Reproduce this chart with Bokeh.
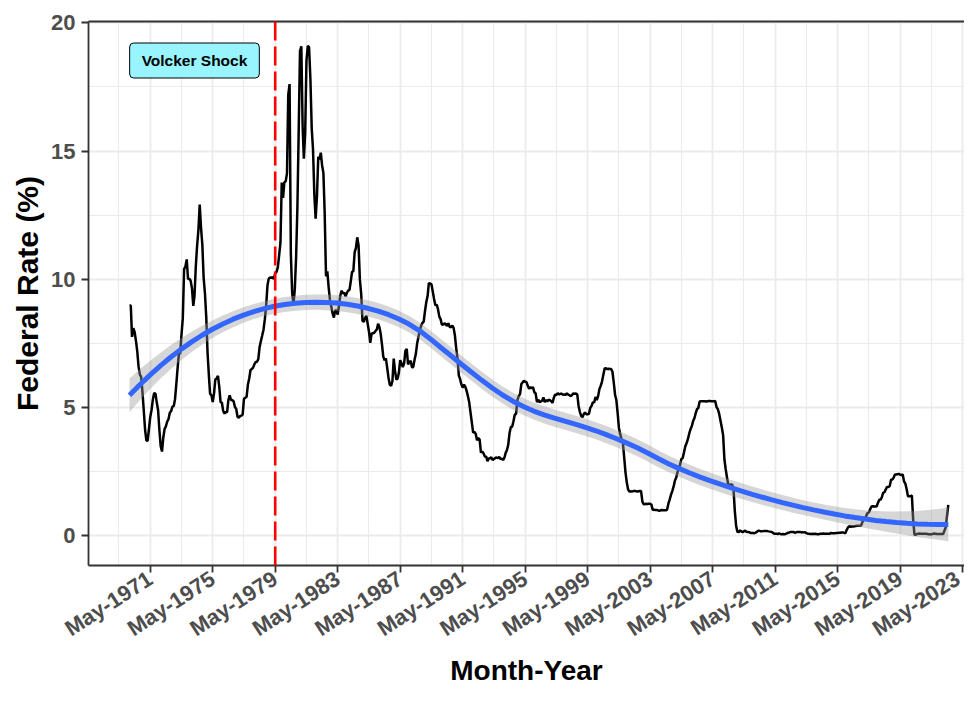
import math
import numpy as np
import pandas as pd
from bokeh.plotting import figure
from bokeh.models import (ColumnDataSource, FixedTicker, DatetimeTickFormatter,
                          Span, Label, LinearAxis, Range1d)
from bokeh.embed import file_html
from bokeh.resources import INLINE

# ---------------- data: monthly effective federal funds rate (%) ----------------
first_month = "1970-01-01"
rate_1970 = [8.98, 8.98, 7.76, 8.10, 7.95, 7.61, 7.21, 6.61, 6.29, 6.20, 5.60, 4.90]
rate_1971 = [4.14, 3.72, 3.71, 4.16, 4.63, 4.91, 5.31, 5.57, 5.55, 5.20, 4.91, 4.14]
rate_1972 = [3.50, 3.29, 3.83, 4.17, 4.27, 4.46, 4.55, 4.80, 4.87, 5.04, 5.06, 5.33]
rate_1973 = [5.94, 6.58, 7.09, 7.12, 7.84, 8.49, 10.40, 10.50, 10.78, 10.01, 10.03, 9.95]
rate_1974 = [9.65, 8.97, 9.35, 10.51, 11.31, 11.93, 12.92, 12.01, 11.34, 10.06, 9.45, 8.53]
rate_1975 = [7.13, 6.24, 5.54, 5.49, 5.22, 5.55, 6.10, 6.14, 6.24, 5.82, 5.22, 5.20]
rate_1976 = [4.87, 4.77, 4.84, 4.82, 5.29, 5.48, 5.31, 5.29, 5.25, 5.03, 4.95, 4.65]
rate_1977 = [4.61, 4.68, 4.69, 4.73, 5.35, 5.39, 5.42, 5.90, 6.14, 6.47, 6.51, 6.56]
rate_1978 = [6.70, 6.78, 6.79, 6.89, 7.36, 7.60, 7.81, 8.04, 8.45, 8.96, 9.76, 10.03]
rate_1979 = [10.07, 10.06, 10.09, 10.01, 10.24, 10.29, 10.47, 10.94, 11.43, 13.77, 13.18, 13.78]
rate_1980 = [13.82, 14.13, 17.19, 17.61, 10.98, 9.47, 9.03, 9.61, 10.87, 12.81, 15.85, 18.90]
rate_1981 = [19.08, 15.93, 14.70, 15.72, 18.52, 19.10, 19.04, 17.82, 15.87, 15.08, 13.31, 12.37]
rate_1982 = [13.22, 14.78, 14.68, 14.94, 14.45, 14.15, 12.59, 10.12, 10.31, 9.71, 9.20, 8.95]
rate_1983 = [8.68, 8.51, 8.77, 8.80, 8.63, 8.98, 9.37, 9.56, 9.45, 9.48, 9.34, 9.47]
rate_1984 = [9.56, 9.59, 9.91, 10.29, 10.32, 11.06, 11.23, 11.64, 11.30, 9.99, 9.43, 8.38]
rate_1985 = [8.35, 8.50, 8.58, 8.27, 7.97, 7.53, 7.88, 7.90, 7.92, 7.99, 8.05, 8.27]
rate_1986 = [8.14, 7.86, 7.48, 6.99, 6.85, 6.92, 6.56, 6.17, 5.89, 5.85, 6.04, 6.91]
rate_1987 = [6.43, 6.10, 6.13, 6.37, 6.85, 6.73, 6.58, 6.73, 7.22, 7.29, 6.69, 6.77]
rate_1988 = [6.83, 6.58, 6.58, 6.87, 7.09, 7.51, 7.75, 8.01, 8.19, 8.30, 8.35, 8.76]
rate_1989 = [9.12, 9.36, 9.85, 9.84, 9.81, 9.53, 9.24, 8.99, 9.02, 8.84, 8.55, 8.45]
rate_1990 = [8.23, 8.24, 8.28, 8.26, 8.18, 8.29, 8.15, 8.13, 8.20, 8.11, 7.81, 7.31]
rate_1991 = [6.91, 6.25, 6.12, 5.91, 5.78, 5.90, 5.82, 5.66, 5.45, 5.21, 4.81, 4.43]
rate_1992 = [4.03, 4.06, 3.98, 3.73, 3.82, 3.76, 3.25, 3.30, 3.22, 3.10, 3.09, 2.92]
rate_1993 = [3.02, 3.03, 3.07, 2.96, 3.00, 3.04, 3.06, 3.03, 3.09, 2.99, 3.02, 2.96]
rate_1994 = [3.05, 3.25, 3.34, 3.56, 4.01, 4.25, 4.26, 4.47, 4.73, 4.76, 5.29, 5.45]
rate_1995 = [5.53, 5.92, 5.98, 6.05, 6.01, 6.00, 5.85, 5.74, 5.80, 5.76, 5.80, 5.60]
rate_1996 = [5.56, 5.22, 5.31, 5.22, 5.24, 5.27, 5.40, 5.22, 5.30, 5.24, 5.31, 5.29]
rate_1997 = [5.25, 5.19, 5.39, 5.51, 5.50, 5.56, 5.52, 5.54, 5.54, 5.50, 5.52, 5.50]
rate_1998 = [5.56, 5.51, 5.49, 5.45, 5.49, 5.56, 5.54, 5.55, 5.51, 5.07, 4.83, 4.68]
rate_1999 = [4.63, 4.76, 4.81, 4.74, 4.74, 4.76, 4.99, 5.07, 5.22, 5.20, 5.42, 5.30]
rate_2000 = [5.45, 5.73, 5.85, 6.02, 6.27, 6.53, 6.54, 6.50, 6.52, 6.51, 6.51, 6.40]
rate_2001 = [5.98, 5.49, 5.31, 4.80, 4.21, 3.97, 3.77, 3.65, 3.07, 2.49, 2.09, 1.82]
rate_2002 = [1.73, 1.74, 1.73, 1.75, 1.75, 1.75, 1.73, 1.74, 1.75, 1.75, 1.34, 1.24]
rate_2003 = [1.24, 1.26, 1.25, 1.26, 1.26, 1.22, 1.01, 1.03, 1.01, 1.01, 1.00, 0.98]
rate_2004 = [1.00, 1.01, 1.00, 1.00, 1.00, 1.03, 1.26, 1.43, 1.61, 1.76, 1.93, 2.16]
rate_2005 = [2.28, 2.50, 2.63, 2.79, 3.00, 3.04, 3.26, 3.50, 3.62, 3.78, 4.00, 4.16]
rate_2006 = [4.29, 4.49, 4.59, 4.79, 4.94, 4.99, 5.24, 5.25, 5.25, 5.25, 5.25, 5.24]
rate_2007 = [5.25, 5.26, 5.26, 5.25, 5.25, 5.25, 5.26, 5.02, 4.94, 4.76, 4.49, 4.24]
rate_2008 = [3.94, 2.98, 2.61, 2.28, 1.98, 2.00, 2.01, 2.00, 1.81, 0.97, 0.39, 0.16]
rate_2009 = [0.15, 0.22, 0.18, 0.15, 0.18, 0.21, 0.16, 0.16, 0.15, 0.12, 0.12, 0.12]
rate_2010 = [0.11, 0.13, 0.16, 0.20, 0.20, 0.18, 0.18, 0.19, 0.19, 0.19, 0.19, 0.18]
rate_2011 = [0.17, 0.16, 0.14, 0.10, 0.09, 0.09, 0.07, 0.10, 0.08, 0.07, 0.08, 0.07]
rate_2012 = [0.08, 0.10, 0.13, 0.14, 0.16, 0.16, 0.16, 0.13, 0.14, 0.16, 0.16, 0.16]
rate_2013 = [0.14, 0.15, 0.14, 0.15, 0.11, 0.09, 0.09, 0.08, 0.08, 0.09, 0.08, 0.09]
rate_2014 = [0.07, 0.07, 0.08, 0.09, 0.09, 0.10, 0.09, 0.09, 0.09, 0.09, 0.09, 0.12]
rate_2015 = [0.11, 0.11, 0.11, 0.12, 0.12, 0.13, 0.13, 0.14, 0.14, 0.12, 0.12, 0.24]
rate_2016 = [0.34, 0.38, 0.36, 0.37, 0.37, 0.38, 0.39, 0.40, 0.40, 0.40, 0.41, 0.54]
rate_2017 = [0.65, 0.66, 0.79, 0.90, 0.91, 1.04, 1.15, 1.16, 1.15, 1.15, 1.16, 1.30]
rate_2018 = [1.41, 1.42, 1.51, 1.69, 1.70, 1.82, 1.91, 1.91, 1.95, 2.19, 2.20, 2.27]
rate_2019 = [2.40, 2.40, 2.41, 2.42, 2.39, 2.38, 2.40, 2.13, 2.04, 1.83, 1.55, 1.55]
rate_2020 = [1.55, 1.58, 0.65, 0.05, 0.05, 0.08, 0.09, 0.10, 0.09, 0.09, 0.09, 0.09]
rate_2021 = [0.09, 0.08, 0.07, 0.07, 0.06, 0.08, 0.10, 0.09, 0.08, 0.08, 0.08, 0.08]
rate_2022 = [0.08, 0.08, 0.20, 0.33, 0.77, 1.21]

x_tick_dates = ["1971-05-01", "1975-05-01", "1979-05-01", "1983-05-01", "1987-05-01",
                "1991-05-01", "1995-05-01", "1999-05-01", "2003-05-01", "2007-05-01",
                "2011-05-01", "2015-05-01", "2019-05-01", "2023-05-01"]
x_minor_dates = ["1969-05-01", "1973-05-01", "1977-05-01", "1981-05-01", "1985-05-01",
                 "1989-05-01", "1993-05-01", "1997-05-01", "2001-05-01", "2005-05-01",
                 "2009-05-01", "2013-05-01", "2017-05-01", "2021-05-01"]
x_tick_format = "%b-%Y"
y_ticks = [0, 5, 10, 15, 20]
y_minor_ticks = [2.5, 7.5, 12.5, 17.5]

shock_date = "1979-05-01"
label_date = "1974-03-01"
label_rate = 18.53
label_text = "Volcker Shock"

rates = np.array(
    rate_1970 + rate_1971 + rate_1972 + rate_1973 + rate_1974 + rate_1975 + rate_1976 +
    rate_1977 + rate_1978 + rate_1979 + rate_1980 + rate_1981 + rate_1982 + rate_1983 +
    rate_1984 + rate_1985 + rate_1986 + rate_1987 + rate_1988 + rate_1989 + rate_1990 +
    rate_1991 + rate_1992 + rate_1993 + rate_1994 + rate_1995 + rate_1996 + rate_1997 +
    rate_1998 + rate_1999 + rate_2000 + rate_2001 + rate_2002 + rate_2003 + rate_2004 +
    rate_2005 + rate_2006 + rate_2007 + rate_2008 + rate_2009 + rate_2010 + rate_2011 +
    rate_2012 + rate_2013 + rate_2014 + rate_2015 + rate_2016 + rate_2017 + rate_2018 +
    rate_2019 + rate_2020 + rate_2021 + rate_2022, dtype=float)
dates = pd.date_range(first_month, periods=len(rates), freq="MS")


def to_ms(ds):
    idx = pd.DatetimeIndex(pd.to_datetime(list(ds)))
    return [int(v) for v in idx.values.astype("datetime64[ms]").astype("int64")]


def to_ms1(d):
    return float(to_ms([d])[0])


# ---------------- loess smoother (degree 2, span 0.75) with 95% band ----------------
def loess_fit(x, y, xe, span=0.75):
    n = len(x)
    q = int(np.floor(n * span))

    def row(x0):
        d = np.abs(x - x0)
        h = np.sort(d)[q - 1]
        u = np.clip(d / h, 0, 1)
        w = (1 - u ** 3) ** 3
        X = np.column_stack([np.ones(n), x - x0, (x - x0) ** 2])
        XtW = X.T * w
        A = XtW @ X
        return np.linalg.solve(A, XtW)[0]

    L = np.array([row(v) for v in x])
    Le = np.array([row(v) for v in xe])
    fit = Le @ y
    res = y - L @ y
    IL = np.eye(n) - L
    M = IL.T @ IL
    d1 = np.trace(M)
    d2 = np.trace(M @ M)
    sigma = np.sqrt(res @ res / d1)
    se = sigma * np.sqrt((Le ** 2).sum(axis=1))
    df = d1 ** 2 / d2
    z = 1.959963985
    tq = z + (z ** 3 + z) / (4 * df) + (5 * z ** 5 + 16 * z ** 3 + 3 * z) / (96 * df ** 2)
    return fit, fit - tq * se, fit + tq * se


xd = (dates - dates[0]).days.values / 365.25
xe = np.linspace(xd.min(), xd.max(), 80)
fit, lo, hi = loess_fit(xd, rates, xe)
eval_dates = dates[0] + pd.to_timedelta(xe * 365.25, unit="D")

src = ColumnDataSource(dict(date=dates, rate=rates))
smooth_src = ColumnDataSource(dict(date=eval_dates, fit=fit, lo=lo, hi=hi))

# ---------------- figure ----------------
p = figure(width=964, height=691, x_axis_type="datetime",
           x_range=Range1d(start=to_ms1("1967-05-19"), end=to_ms1("2023-06-15")),
           y_range=Range1d(-1.15, 20.05),
           output_backend="svg", toolbar_location=None,
           min_border_left=88, min_border_right=0, min_border_top=21, min_border_bottom=126)
p.background_fill_color = "white"
p.border_fill_color = "white"
p.outline_line_color = None

# grid
p.xgrid.ticker = FixedTicker(ticks=to_ms(x_tick_dates), minor_ticks=to_ms(x_minor_dates))
p.ygrid.ticker = FixedTicker(ticks=y_ticks, minor_ticks=y_minor_ticks)
for g in (p.xgrid, p.ygrid):
    g.grid_line_color = "#EBEBEB"
    g.grid_line_width = 1.8
    g.minor_grid_line_color = "#EBEBEB"
    g.minor_grid_line_width = 1.1

# axes
p.xaxis.ticker = FixedTicker(ticks=to_ms(x_tick_dates))
p.xaxis.formatter = DatetimeTickFormatter(
    milliseconds=x_tick_format, seconds=x_tick_format, minsec=x_tick_format,
    minutes=x_tick_format, hourmin=x_tick_format, hours=x_tick_format,
    days=x_tick_format, months=x_tick_format, years=x_tick_format)
p.xaxis.major_label_orientation = math.radians(33)
p.yaxis.ticker = FixedTicker(ticks=y_ticks)

for ax in (p.xaxis, p.yaxis):
    ax.axis_line_color = "#333333"
    ax.axis_line_width = 1.8
    ax.major_tick_line_color = "#333333"
    ax.major_tick_line_width = 1.8
    ax.major_tick_out = 7
    ax.major_tick_in = 0
    ax.minor_tick_line_color = None
    ax.major_label_text_font = "Liberation Sans"
    ax.major_label_text_font_style = "bold"
    ax.major_label_text_font_size = "22px"
    ax.major_label_text_color = "#4D4D4D"
    ax.major_label_standoff = 6
    ax.axis_label_text_font = "Liberation Sans"
    ax.axis_label_text_font_style = "bold"
    ax.axis_label_text_color = "black"

p.xaxis.major_label_standoff = 4
p.xaxis.axis_label = "Month-Year"
p.xaxis.axis_label_text_font_size = "28px"
p.xaxis.axis_label_standoff = 1
p.yaxis.axis_label = "Federal Rate (%)"
p.yaxis.axis_label_text_font_size = "30px"
p.yaxis.axis_label_standoff = 4

top_axis = LinearAxis(ticker=FixedTicker(ticks=[]), axis_line_color="#333333", axis_line_width=1.8,
                      major_tick_line_color=None, minor_tick_line_color=None,
                      major_label_text_font_size="0px", major_label_standoff=0)
p.add_layout(top_axis, "above")

# glyphs
p.line("date", "rate", source=src, line_color="black", line_width=2.5)
p.varea("date", "lo", "hi", source=smooth_src, fill_color="#999999", fill_alpha=0.4)
p.line("date", "fit", source=smooth_src, line_color="#3366FF", line_width=5)

p.add_layout(Span(location=to_ms1(shock_date), dimension="height", line_color="#FF0000",
                  line_width=2.6, line_dash="19 6"))

p.add_layout(Label(x=to_ms1(label_date), y=label_rate, text=label_text,
                   text_font="Liberation Sans", text_font_style="bold", text_font_size="15.5px",
                   text_color="black", text_align="center", text_baseline="middle",
                   background_fill_color="#98F5FF", border_line_color="black", border_line_width=1,
                   padding=dict(left=12, right=12, top=9, bottom=9), border_radius=4))

open("out.html", "w").write(file_html(p, INLINE))
